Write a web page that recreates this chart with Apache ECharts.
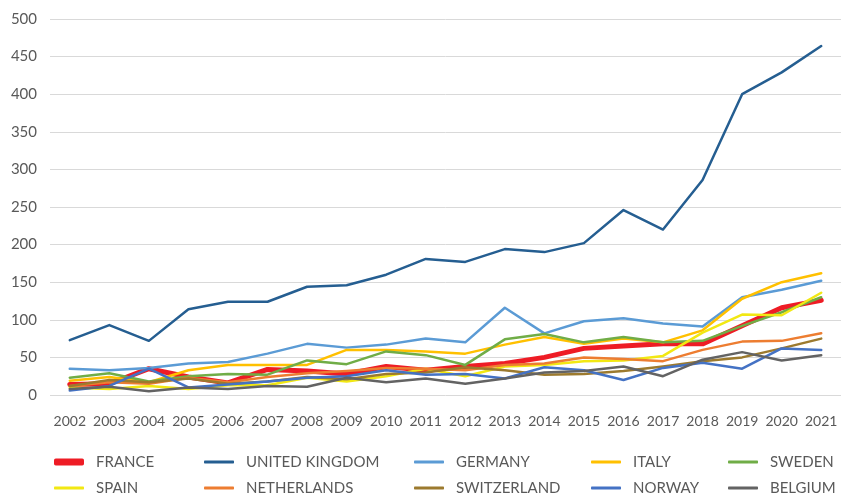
<!DOCTYPE html>
<html>
<head>
<meta charset="utf-8">
<script src="https://cdn.jsdelivr.net/npm/echarts@6/dist/echarts.min.js"></script>
<style>
  html, body { margin: 0; padding: 0; background: #fff; }
  #chart { width: 841px; height: 499px; }
</style>
</head>
<body>
<div id="chart"></div>
<script>
// 年份
const years = ['2002', '2003', '2004', '2005', '2006', '2007', '2008', '2009', '2010', '2011',
	'2012', '2013', '2014', '2015', '2016', '2017', '2018', '2019', '2020', '2021'];

// 各国数据
const france = [14, 15, 35, 24, 16, 34, 32, 28, 38, 33, 38, 42, 50, 62, 65, 68, 68, 92, 116, 126];
const unitedKingdom = [73, 93, 72, 114, 124, 124, 144, 146, 160, 181, 177, 194, 190, 202, 246, 220, 286, 400, 429, 464];
const germany = [35, 33, 36, 42, 44, 55, 68, 63, 67, 75, 70, 116, 82, 98, 102, 95, 91, 130, 140, 152];
const italy = [19, 24, 17, 33, 40, 40, 40, 60, 60, 58, 55, 67, 77, 68, 75, 70, 86, 128, 150, 162];
const sweden = [23, 29, 18, 25, 28, 27, 46, 41, 58, 53, 40, 74, 81, 70, 77, 70, 72, 92, 110, 130];
const spain = [10, 8, 12, 8, 13, 13, 23, 18, 25, 35, 25, 38, 40, 45, 46, 52, 83, 107, 106, 136];
const netherlands = [12, 17, 15, 23, 17, 24, 29, 32, 36, 35, 33, 40, 42, 50, 48, 45, 60, 71, 72, 82];
const switzerland = [12, 20, 17, 22, 15, 18, 24, 21, 28, 30, 37, 33, 27, 28, 32, 38, 45, 50, 62, 75];
const norway = [6, 12, 35, 10, 14, 18, 23, 25, 33, 27, 28, 22, 37, 33, 20, 36, 43, 35, 62, 60];
const belgium = [8, 11, 5, 10, 8, 12, 11, 23, 17, 22, 15, 22, 30, 32, 38, 25, 47, 57, 46, 53];

const yTicks = [0, 50, 100, 150, 200, 250, 300, 350, 400, 450, 500];

(function () {
	let myChart = echarts.init(document.getElementById('chart'));
	const font = 'Lato, "Noto Sans", sans-serif';
	const textColor = '#595959';

	// 系列定义：名称、数据、颜色、线宽
	const seriesDefs = [
		['FRANCE', france, '#ee1c25', 5],
		['UNITED KINGDOM', unitedKingdom, '#255e91', 2.5],
		['GERMANY', germany, '#5b9bd5', 2.5],
		['ITALY', italy, '#ffc000', 2.5],
		['SWEDEN', sweden, '#70ad47', 2.5],
		['SPAIN', spain, '#f2e813', 2.5],
		['NETHERLANDS', netherlands, '#ed7d31', 2.5],
		['SWITZERLAND', switzerland, '#9c7a2e', 2.5],
		['NORWAY', norway, '#4472c4', 2.5],
		['BELGIUM', belgium, '#636363', 2.5]
	];

	// 图例位置（两行五列）
	const legendLeft = [54, 204, 414, 591, 728];
	const legendTop = [453, 479];

	const legends = seriesDefs.map(function (d, i) {
		return {
			data: [d[0]],
			left: legendLeft[i % 5],
			top: legendTop[Math.floor(i / 5)],
			icon: 'roundRect',
			itemWidth: 30,
			itemHeight: d[3] > 3 ? 7 : 3,
			itemGap: 0,
			padding: 0,
			textStyle: {
				color: textColor,
				fontSize: 15,
				fontFamily: font,
				padding: [0, 0, 0, 7],
				lineHeight: 18
			}
		};
	});

	const option = {
		animation: false,
		color: seriesDefs.map(d => d[2]),
		legend: legends,
		grid: {
			left: 50,
			top: 19,
			width: 795,
			height: 376
		},
		xAxis: {
			type: 'category',
			data: years,
			boundaryGap: true,
			axisLine: { show: false },
			axisTick: { show: false },
			axisLabel: {
				color: textColor,
				fontSize: 14,
				fontFamily: font,
				margin: 19,
				interval: 0
			}
		},
		yAxis: {
			type: 'value',
			min: yTicks[0],
			max: yTicks[yTicks.length - 1],
			interval: 50,
			axisLine: { show: false },
			axisTick: { show: false },
			axisLabel: {
				color: textColor,
				fontSize: 15,
				fontFamily: font,
				margin: 13
			},
			splitLine: {
				lineStyle: { color: '#d9d9d9', width: 1 }
			}
		},
		series: seriesDefs.map(function (d) {
			return {
				name: d[0],
				type: 'line',
				data: d[1],
				symbol: 'none',
				lineStyle: { color: d[2], width: d[3], cap: 'round', join: 'round' },
				itemStyle: { color: d[2] }
			};
		})
	};
	myChart.setOption(option);
})();
</script>
</body>
</html>
